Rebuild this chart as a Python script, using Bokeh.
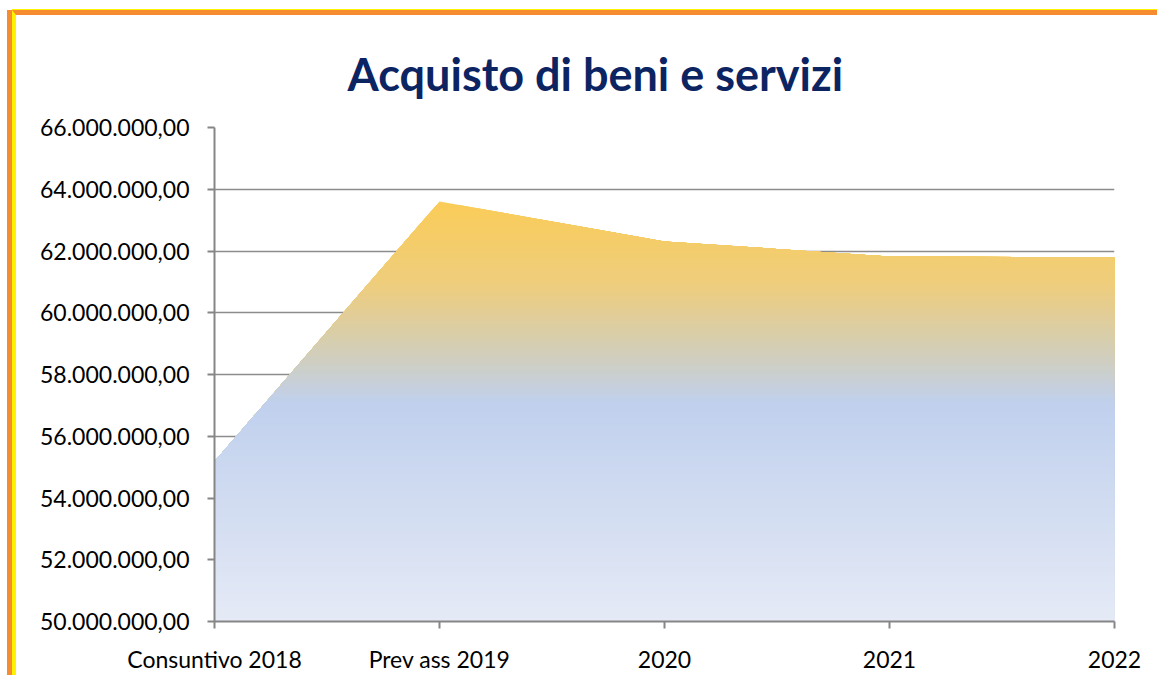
import numpy as np
from bokeh.plotting import figure
from bokeh.models import Range1d, FixedTicker, Title
from bokeh.embed import file_html
from bokeh.resources import INLINE

# ---- data ----
categories = ["Consuntivo 2018", "Prev ass 2019", "2020", "2021", "2022"]
values = [55180000, 63600000, 62310000, 61820000, 61790000]
y_ticks = [50e6, 52e6, 54e6, 56e6, 58e6, 60e6, 62e6, 64e6, 66e6]
title_text = "Acquisto di beni e servizi"

FONT = "Lato"


def fmt_it(v):
    s = f"{v:,.2f}"
    return s.replace(",", "X").replace(".", ",").replace("X", ".")


xs = np.arange(len(categories), dtype=float)
vals = np.array(values, dtype=float)
y_min, y_max = y_ticks[0], y_ticks[-1]

p = figure(width=1145, height=665, output_backend="svg", toolbar_location=None,
           x_range=Range1d(0, len(categories) - 1), y_range=Range1d(y_min, y_max),
           min_border_left=198, min_border_right=47, min_border_top=112, min_border_bottom=59,
           styles={"margin-left": "12px", "margin-top": "10px",
                   "border-top": "5px solid #F68B2F", "border-left": "4px solid #FFF200",
                   "box-shadow": "-5px 0 0 #F68B2F, 0 -1px 0 #FFF200"})
p.outline_line_color = None
p.background_fill_color = "white"
p.border_fill_color = "white"

# gradient fill (Excel-like) built from stacked areas
stops = [(0.0, (250, 204, 88)), (0.2, (238, 205, 125)), (0.36, (210, 206, 185)),
         (0.48, (192, 208, 237)), (1.0, (229, 234, 246))]


def grad(t):
    for (t0, c0), (t1, c1) in zip(stops[:-1], stops[1:]):
        if t <= t1:
            f = (t - t0) / (t1 - t0) if t1 > t0 else 0
            c = [round(a + (b - a) * f) for a, b in zip(c0, c1)]
            return "#%02x%02x%02x" % tuple(c)
    return "#%02x%02x%02x" % stops[-1][1]


top = vals.max()
n_bands = 120
levels = np.linspace(top, y_min, n_bands + 1)[:-1]
step = (top - y_min) / n_bands
for b in levels:
    xb = list(xs)
    for i in range(len(xs) - 1):
        v0, v1 = vals[i], vals[i + 1]
        if (v0 - b) * (v1 - b) < 0:
            xb.append(xs[i] + (b - v0) / (v1 - v0))
    xb = np.array(sorted(xb))
    yb = np.minimum(np.interp(xb, xs, vals), b)
    t = (top - (b - step / 2)) / (top - y_min)
    p.varea(x=xb, y1=np.full_like(xb, y_min), y2=yb, fill_color=grad(min(max(t, 0), 1)))

# axes
p.xaxis.ticker = FixedTicker(ticks=list(xs))
p.xaxis.major_label_overrides = {i: c for i, c in enumerate(categories)}
p.yaxis.ticker = FixedTicker(ticks=y_ticks)
p.yaxis.major_label_overrides = {int(v): fmt_it(v) for v in y_ticks}

for ax in (p.xaxis, p.yaxis):
    ax.axis_line_color = "#868686"
    ax.axis_line_width = 2
    ax.major_tick_line_color = "#868686"
    ax.major_tick_line_width = 2
    ax.major_tick_out = 7
    ax.major_tick_in = 0
    ax.minor_tick_line_color = None
    ax.major_label_text_font = FONT
    ax.major_label_text_font_size = "23px"
    ax.major_label_text_color = "#000000"
p.yaxis.major_label_standoff = 18
p.xaxis.major_label_standoff = 16

p.xgrid.grid_line_color = None
p.ygrid.ticker = FixedTicker(ticks=y_ticks)
p.ygrid.grid_line_color = "#8c8c8c"
p.ygrid.grid_line_width = 1.6

title = Title(text=title_text, align="left", offset=133, standoff=54,
              text_font=FONT, text_font_size="45px", text_font_style="bold",
              text_color="#0D2462")
p.add_layout(title, "above")

open("out.html", "w").write(file_html(p, INLINE))
